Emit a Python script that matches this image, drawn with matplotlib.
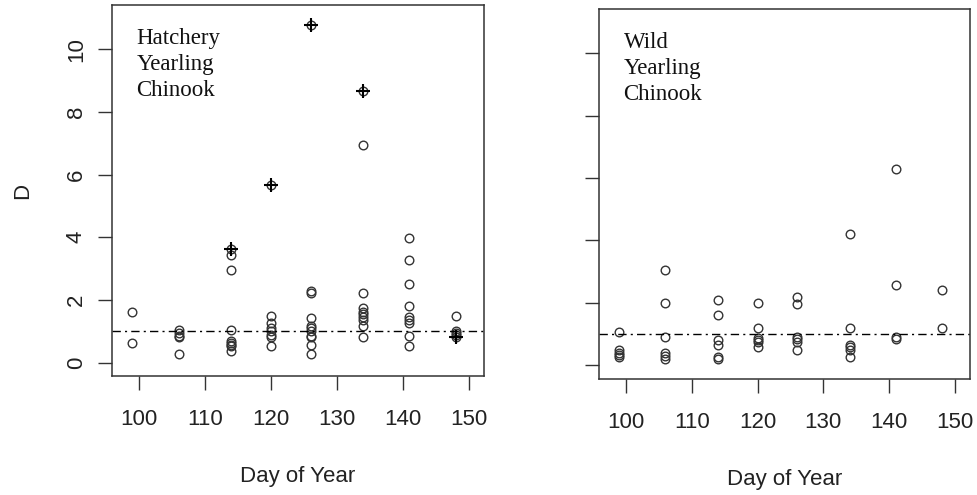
import matplotlib
matplotlib.use("Agg")
import matplotlib.pyplot as plt

# hatchery yearling chinook, open circles
hatch_day = [99, 99,
             106, 106, 106, 106, 106,
             114, 114, 114, 114, 114, 114, 114, 114,
             120, 120, 120, 120, 120, 120, 120,
             126, 126, 126, 126, 126, 126, 126, 126, 126, 126,
             134, 134, 134, 134, 134, 134, 134, 134, 134,
             141, 141, 141, 141, 141, 141, 141, 141, 141,
             148, 148, 148, 148]
hatch_d = [1.60, 0.64,
           1.03, 0.95, 0.85, 0.80, 0.27,
           3.43, 2.97, 1.03, 0.69, 0.63, 0.57, 0.52, 0.36,
           1.49, 1.25, 1.09, 1.00, 0.87, 0.80, 0.53,
           2.29, 2.22, 1.43, 1.16, 1.09, 1.01, 0.84, 0.80, 0.57, 0.27,
           6.94, 2.21, 1.74, 1.62, 1.54, 1.46, 1.37, 1.16, 0.80,
           3.98, 3.27, 2.52, 1.82, 1.46, 1.37, 1.27, 0.84, 0.52,
           1.48, 1.01, 0.93, 0.87]
# hatchery points flagged with a cross
flag_day = [114, 120, 126, 134, 148]
flag_d = [3.64, 5.66, 10.78, 8.68, 0.82]

# wild yearling chinook
wild_day = [99, 99, 99, 99, 99,
            106, 106, 106, 106, 106, 106,
            114, 114, 114, 114, 114, 114,
            120, 120, 120, 120, 120, 120,
            126, 126, 126, 126, 126, 126,
            134, 134, 134, 134, 134, 134,
            141, 141, 141, 141,
            148, 148]
wild_d = [1.05, 0.50, 0.40, 0.33, 0.28,
          3.05, 2.00, 0.90, 0.40, 0.30, 0.20,
          2.08, 1.62, 0.82, 0.66, 0.26, 0.20,
          2.00, 1.18, 0.86, 0.80, 0.74, 0.60,
          2.18, 1.96, 0.90, 0.84, 0.76, 0.50,
          4.22, 1.20, 0.65, 0.57, 0.49, 0.26,
          6.30, 2.57, 0.91, 0.84,
          2.42, 1.20]

ref_line = 1.0
xticks = [100, 110, 120, 130, 140, 150]
yticks = [0, 2, 4, 6, 8, 10]

plt.rcParams['font.family'] = ['Liberation Sans', 'DejaVu Sans']
fig = plt.figure(figsize=(9.77, 4.95), dpi=100)
ax1 = fig.add_axes([0.1146, 0.2404, 0.3808, 0.7495])
ax2 = fig.add_axes([0.6131, 0.2350, 0.3798, 0.7470])

pt_col = '#333333'
for ax, xs, ys, label in [(ax1, hatch_day, hatch_d, 'Hatchery\nYearling\nChinook'),
                          (ax2, wild_day, wild_d, 'Wild\nYearling\nChinook')]:
    ax.plot(xs, ys, 'o', mfc='none', mec=pt_col, ms=6.2, mew=1.0, ls='none')
    ax.axhline(ref_line, color='black', lw=1.0, dashes=(6, 3, 1.5, 3))
    ax.set_xlim(95.9, 152.3)
    ax.set_ylim(-0.43, 11.42)
    ax.set_xticks(xticks)
    ax.set_yticks(yticks)
    ax.tick_params(axis='both', direction='out', length=10, width=1.0,
                   color='#333333', labelsize=16, labelcolor='#222222')
    ax.tick_params(axis='x', pad=14)
    ax.tick_params(axis='y', pad=8)
    for s in ax.spines.values():
        s.set_color('#333333')
        s.set_linewidth(1.1)
    ax.text(0.066, 0.937, label, transform=ax.transAxes, ha='left', va='top',
            family=['Liberation Serif', 'DejaVu Serif'], fontsize=16.5,
            color='#111111', linespacing=1.3)
    ax.set_xlabel('Day of Year', fontsize=16, color='#222222', va='center')
    ax.xaxis.set_label_coords(0.5, -0.272)

# crosses on top of the circled hatchery points
ax1.plot(flag_day, flag_d, 'o', mfc='none', mec=pt_col, ms=6.2, mew=1.0, ls='none')
ax1.plot(flag_day, flag_d, '+', color='black', ms=10, mew=1.5, ls='none')

for t in ax1.get_yticklabels():
    t.set_rotation(90)
    t.set_va('center')
ax2.set_yticklabels([])

ax1.set_ylabel('D', fontsize=16, color='#222222', va='center')
ax1.yaxis.set_label_coords(-0.239, 0.5)

fig.savefig('out.png', dpi=100)
